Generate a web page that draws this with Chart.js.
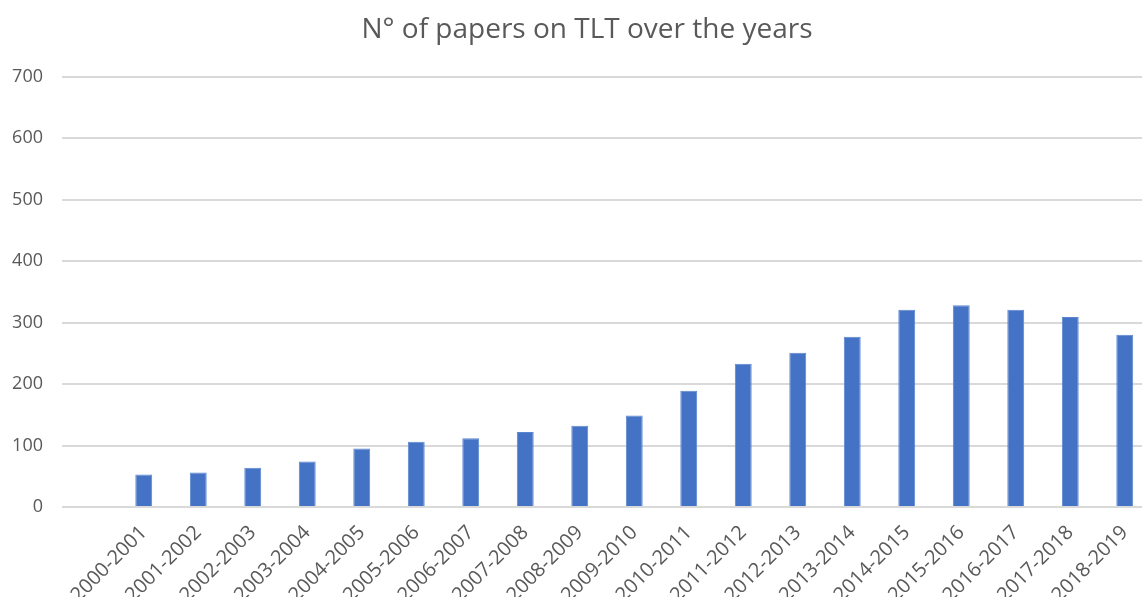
<!DOCTYPE html>
<html>
<head>
<meta charset="utf-8">
<script src="https://cdn.jsdelivr.net/npm/chart.js@4"></script>
<style>
  html, body { margin: 0; padding: 0; background: #ffffff; overflow: hidden; }
  #wrap { width: 1142px; height: 597px; overflow: hidden; position: relative; }
  canvas { position: absolute; left: 0; top: 0; }
</style>
</head>
<body>
<div id="wrap"><canvas id="c" width="1174" height="597"></canvas></div>
<script>
const title = 'N° of papers on TLT over the years';
const categories = ['2000-2001','2001-2002','2002-2003','2003-2004','2004-2005','2005-2006','2006-2007','2007-2008','2008-2009','2009-2010','2010-2011','2011-2012','2012-2013','2013-2014','2014-2015','2015-2016','2016-2017','2017-2018','2018-2019'];
const papers = [53, 56, 64, 74, 95, 106, 112, 122, 132, 149, 189, 233, 251, 277, 321, 328, 321, 309, 280];
const yTicks = [0, 100, 200, 300, 400, 500, 600, 700];

// Leading blank category slot, as in the original chart
const labels = [''].concat(categories);
const values = [null].concat(papers);

const textColor = '#595959';
const gridColor = '#d9d9d9';

// Center the title over the region the original chart used (plot spans to the right crop)
const titleShift = {
  id: 'titleShift',
  afterLayout(chart) {
    const t = chart.titleBlock;
    if (t) { t.left = 22; }
  }
};

new Chart(document.getElementById('c'), {
  type: 'bar',
  data: {
    labels: labels,
    datasets: [{
      label: 'Papers',
      data: values,
      backgroundColor: '#4472C4',
      borderColor: '#5b85cf',
      borderWidth: 1,
      barPercentage: 0.31,
      categoryPercentage: 1.0
    }]
  },
  plugins: [titleShift],
  options: {
    responsive: false,
    devicePixelRatio: 1,
    animation: false,
    layout: { padding: { left: 0, right: 22, top: 0, bottom: 0 } },
    plugins: {
      legend: { display: false },
      tooltip: { enabled: false },
      title: {
        display: true,
        text: title,
        color: textColor,
        font: { family: 'Open Sans', size: 28, weight: 'normal' },
        padding: { top: 13, bottom: 30 }
      }
    },
    scales: {
      x: {
        grid: { display: false, drawTicks: false },
        border: { display: false },
        ticks: {
          color: textColor,
          font: { family: 'Open Sans', size: 20 },
          minRotation: 45,
          maxRotation: 45,
          autoSkip: false,
          padding: 14
        },
        afterFit: function (scale) { scale.height = 90; }
      },
      y: {
        min: 0,
        max: yTicks[yTicks.length - 1],
        afterBuildTicks: function (scale) { scale.ticks = yTicks.map(v => ({ value: v })); },
        grid: { color: gridColor, lineWidth: 2, drawTicks: false },
        border: { display: false },
        ticks: {
          color: textColor,
          font: { family: 'Open Sans', size: 18 },
          padding: 19
        },
        afterFit: function (scale) { scale.width = 62; }
      }
    }
  }
});
</script>
</body>
</html>
